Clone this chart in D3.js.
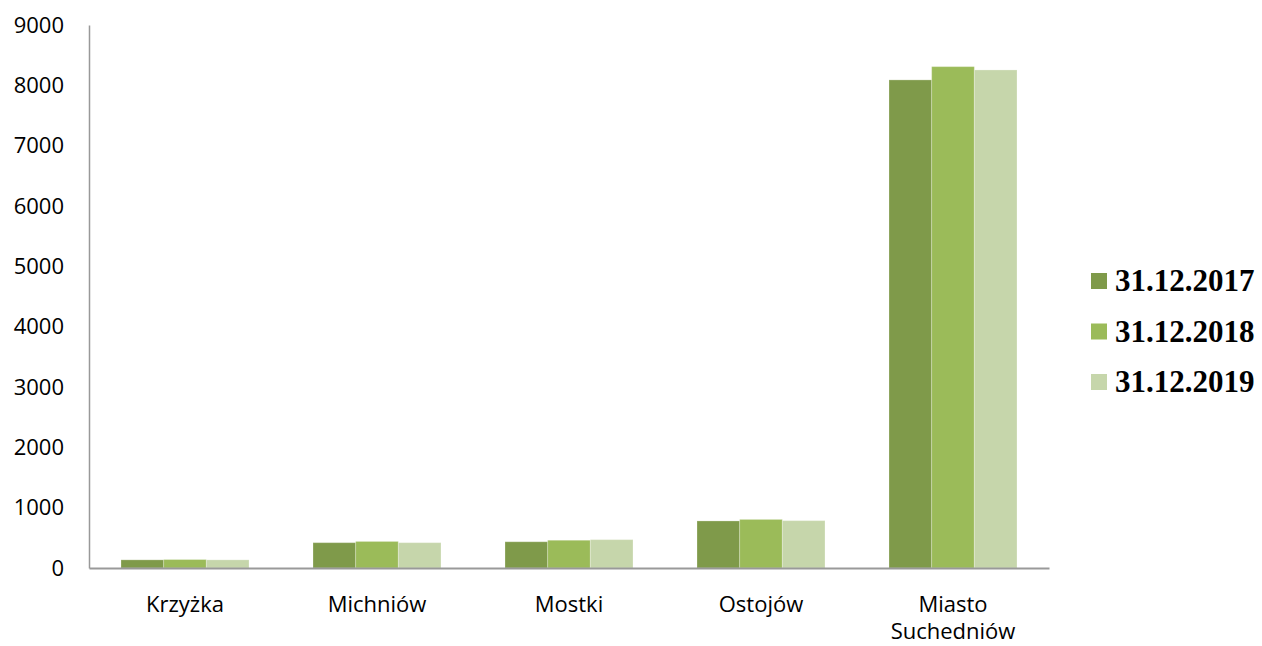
<!DOCTYPE html>
<html>
<head>
<meta charset="utf-8">
<script src="https://cdn.jsdelivr.net/npm/d3@7"></script>
<style>
  body { margin: 0; background: #fff; }
  .axis text { font-family: 'Open Sans', sans-serif; font-size: 22px; fill: #000; }
  .axis path { stroke: #999; }
  .legend text { font-family: 'Liberation Serif', 'Times New Roman', serif; font-weight: bold; font-size: 31px; fill: #000; }
</style>
</head>
<body>
<div id="chart"></div>
<script>
const width = 1262;
const height = 646;

// data
const categories = ['Krzyżka', 'Michniów', 'Mostki', 'Ostojów', 'Miasto\nSuchedniów'];
const seriesNames = ['31.12.2017', '31.12.2018', '31.12.2019'];
const values2017 = [135, 420, 435, 780, 8090];
const values2018 = [140, 440, 460, 805, 8310];
const values2019 = [135, 420, 470, 785, 8255];
const yTicks = [0, 1000, 2000, 3000, 4000, 5000, 6000, 7000, 8000, 9000];
const colors = ['#7f9a4a', '#9bbb59', '#c6d6ab'];

const series = [values2017, values2018, values2019];

const svg = d3.select('#chart')
    .append('svg')
    .attr('width', width)
    .attr('height', height);

const xScale = d3.scaleBand()
    .domain(categories)
    .range([89, 1049])
    .paddingInner(1 / 3)
    .paddingOuter(1 / 6);

const xSub = d3.scaleBand()
    .domain(seriesNames)
    .range([0, xScale.bandwidth()]);

const yScale = d3.scaleLinear()
    .domain([0, 9000])
    .range([568, 25]);

// bars
seriesNames.forEach(function (name, s) {
    svg.selectAll('.bar' + s)
        .data(categories)
        .enter()
        .append('rect')
        .attr('class', 'bar' + s)
        .attr('x', function (d) { return xScale(d) + xSub(name); })
        .attr('y', function (d, i) { return yScale(series[s][i]); })
        .attr('width', xSub.bandwidth())
        .attr('height', function (d, i) { return yScale(0) - yScale(series[s][i]); })
        .attr('fill', colors[s])
        .attr('stroke', 'rgba(255,255,255,0.25)')
        .attr('stroke-width', 1);
});

// y axis
const yAxis = d3.axisLeft(yScale)
    .tickValues(yTicks)
    .tickSize(0)
    .tickSizeOuter(0)
    .tickPadding(25)
    .tickFormat(d3.format('d'));
const yAxisG = svg.append('g')
    .attr('class', 'axis')
    .attr('transform', 'translate(89,0)')
    .call(yAxis);
yAxisG.select('.domain').attr('stroke-width', 1.5);

// x axis
const xAxis = d3.axisBottom(xScale)
    .tickSize(0)
    .tickSizeOuter(0)
    .tickPadding(28);
const xAxisG = svg.append('g')
    .attr('class', 'axis')
    .attr('transform', 'translate(0,568)')
    .call(xAxis);
xAxisG.select('.domain').attr('stroke-width', 2);

xAxisG.selectAll('.tick text').each(function (d) {
    const lines = d.split('\n');
    const t = d3.select(this);
    t.text(null);
    lines.forEach(function (line, i) {
        t.append('tspan')
            .attr('x', 0)
            .attr('dy', i === 0 ? '0.71em' : '1.25em')
            .text(line);
    });
});
xAxisG.selectAll('.tick text').attr('dy', null);

// legend
const legend = svg.append('g')
    .attr('class', 'legend')
    .attr('transform', 'translate(1091,273)');

const items = legend.selectAll('.item')
    .data(seriesNames)
    .enter()
    .append('g')
    .attr('class', 'item')
    .attr('transform', function (d, i) { return 'translate(0,' + (i * 50.5) + ')'; });

items.append('rect')
    .attr('width', 16)
    .attr('height', 16)
    .attr('fill', function (d, i) { return colors[i]; });

items.append('text')
    .attr('x', 24)
    .attr('y', 18)
    .text(function (d) { return d; });
</script>
</body>
</html>
